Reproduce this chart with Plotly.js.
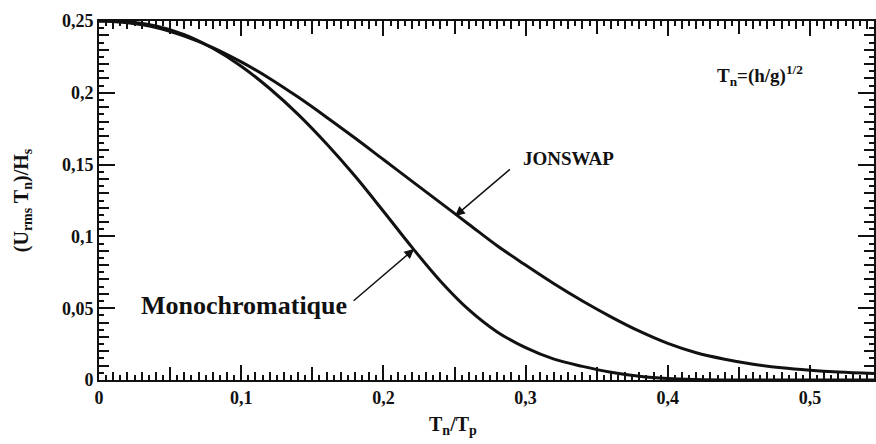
<!DOCTYPE html>
<html><head><meta charset="utf-8">
<script src="https://cdn.plot.ly/plotly-3.0.1.min.js"></script>
<style>html,body{margin:0;padding:0;background:#fff}#chart{width:876px;height:444px}</style>
</head><body><div id="chart"></div>
<script>
// Monochromatic curve
const monoX = [0, 0.02, 0.04, 0.06, 0.08, 0.10, 0.12, 0.14, 0.16, 0.18, 0.20, 0.22, 0.24, 0.26, 0.28, 0.30, 0.32, 0.34, 0.36, 0.38, 0.40, 0.42, 0.44, 0.50, 0.545];
const monoY = [0.250, 0.2495, 0.2465, 0.2405, 0.2310, 0.2185, 0.2030, 0.1850, 0.1645, 0.1420, 0.1175, 0.0925, 0.0690, 0.0490, 0.0335, 0.0225, 0.0145, 0.0095, 0.0054, 0.0026, 0.0010, 0.0003, 0, 0, 0];
// JONSWAP curve
const jonX = [0, 0.02, 0.04, 0.06, 0.08, 0.10, 0.12, 0.14, 0.16, 0.18, 0.20, 0.22, 0.24, 0.26, 0.28, 0.30, 0.32, 0.34, 0.36, 0.38, 0.40, 0.42, 0.44, 0.46, 0.48, 0.50, 0.52, 0.545];
const jonY = [0.250, 0.2488, 0.2455, 0.2395, 0.2315, 0.2215, 0.2100, 0.1970, 0.1830, 0.1685, 0.1535, 0.1385, 0.1235, 0.1085, 0.0935, 0.0800, 0.0670, 0.0550, 0.0440, 0.0340, 0.0255, 0.0190, 0.0145, 0.0110, 0.0085, 0.0068, 0.0056, 0.0046];

const xTickVals = [0, 0.1, 0.2, 0.3, 0.4, 0.5];
const xTickText = ['0', '0,1', '0,2', '0,3', '0,4', '0,5'];
const yTickVals = [0, 0.05, 0.1, 0.15, 0.2, 0.25];
const yTickText = ['0', '0,05', '0,1', '0,15', '0,2', '0,25'];

const xRange = [0, 0.545];
const yRange = [0, 0.25];
const FONT = 'Liberation Serif, Times New Roman, serif';
const INK = '#111';

const lineStyle = {color: INK, width: 3, shape: 'spline', smoothing: 1};
const traces = [
  {x: monoX, y: monoY, type: 'scatter', mode: 'lines', line: lineStyle, hoverinfo: 'skip'},
  {x: jonX, y: jonY, type: 'scatter', mode: 'lines', line: lineStyle, hoverinfo: 'skip'},
  {x: [null], y: [null], xaxis: 'x2', yaxis: 'y2', type: 'scatter', mode: 'lines', hoverinfo: 'skip'},
  {x: [null], y: [null], xaxis: 'x3', yaxis: 'y3', type: 'scatter', mode: 'lines', hoverinfo: 'skip'},
  {x: [null], y: [null], xaxis: 'x4', yaxis: 'y', type: 'scatter', mode: 'lines', hoverinfo: 'skip'}
];

function tickAxis(letter, over, range, side, dtick, len, w) {
  return {
    overlaying: over, anchor: letter === 'x' ? 'y' : 'x', range: range, side: side,
    tickmode: 'linear', tick0: 0, dtick: dtick,
    ticks: 'inside', ticklen: len, tickwidth: w, tickcolor: INK,
    showticklabels: false, showline: true, linewidth: 2, linecolor: INK, mirror: 'ticks', showgrid: false, zeroline: false
  };
}

const layout = {
  width: 876, height: 444,
  margin: {l: 99, r: 2, t: 21, b: 64},
  paper_bgcolor: '#fff', plot_bgcolor: '#fff',
  showlegend: false,
  font: {family: FONT, color: INK, size: 18},
  xaxis: {
    range: xRange, anchor: 'y',
    tickmode: 'array', tickvals: xTickVals, ticktext: xTickText,
    ticks: 'inside', ticklen: 15, tickwidth: 2, tickcolor: INK,
    showline: true, linewidth: 2, linecolor: INK, mirror: 'ticks',
    showgrid: false, zeroline: false,
    tickfont: {family: FONT, size: 18, weight: 'bold', color: INK}
  },
  yaxis: {
    range: yRange, anchor: 'x',
    tickmode: 'array', tickvals: yTickVals, ticktext: yTickText,
    ticks: 'inside', ticklen: 16, tickwidth: 2, tickcolor: INK,
    showline: true, linewidth: 2, linecolor: INK, mirror: 'ticks',
    showgrid: false, zeroline: false,
    tickfont: {family: FONT, size: 18, weight: 'bold', color: INK},
    title: {text: '(U<sub>rms</sub> T<sub>n</sub>)/H<sub>s</sub>', font: {family: FONT, size: 20, weight: 'bold', color: INK}, standoff: 28}
  },
  xaxis2: tickAxis('x', 'x', xRange, 'bottom', 0.01, 8, 1.5),
  yaxis2: tickAxis('y', 'y', yRange, 'left', 0.01, 10, 1.5),
  xaxis3: tickAxis('x', 'x', xRange, 'bottom', 0.005, 5, 1.5),
  yaxis3: tickAxis('y', 'y', yRange, 'left', 0.005, 5, 1.5),
  xaxis4: tickAxis('x', 'x', xRange, 'bottom', 0.05, 13, 2),
  annotations: [
    {x: 0.249, y: -0.085, xref: 'x', yref: 'paper', yanchor: 'top', text: 'T<sub>n</sub>/T<sub>p</sub>', showarrow: false, font: {family: FONT, size: 20, weight: 'bold', color: INK}},
    {x: 0.2504, y: 0.1142, ax: 0.290, ay: 0.1476, xref: 'x', yref: 'y', axref: 'x', ayref: 'y', text: '', showarrow: true, arrowhead: 2, arrowsize: 1.3, arrowwidth: 1.5, arrowcolor: INK},
    {x: 0.330, y: 0.154, xref: 'x', yref: 'y', text: 'JONSWAP', showarrow: false, font: {family: FONT, size: 19, weight: 'bold', color: INK}},
    {x: 0.2216, y: 0.0912, ax: 0.178, ay: 0.0543, xref: 'x', yref: 'y', axref: 'x', ayref: 'y', text: '', showarrow: true, arrowhead: 2, arrowsize: 1.3, arrowwidth: 1.5, arrowcolor: INK},
    {x: 0.102, y: 0.052, xref: 'x', yref: 'y', text: 'Monochromatique', showarrow: false, font: {family: FONT, size: 26, weight: 'bold', color: INK}},
    {x: 0.465, y: 0.212, xref: 'x', yref: 'y', text: 'T<sub>n</sub>=(h/g)<sup>1/2</sup>', showarrow: false, font: {family: FONT, size: 19, weight: 'bold', color: INK}}
  ]
};

Plotly.newPlot('chart', traces, layout, {displayModeBar: false});
</script>
</body></html>
